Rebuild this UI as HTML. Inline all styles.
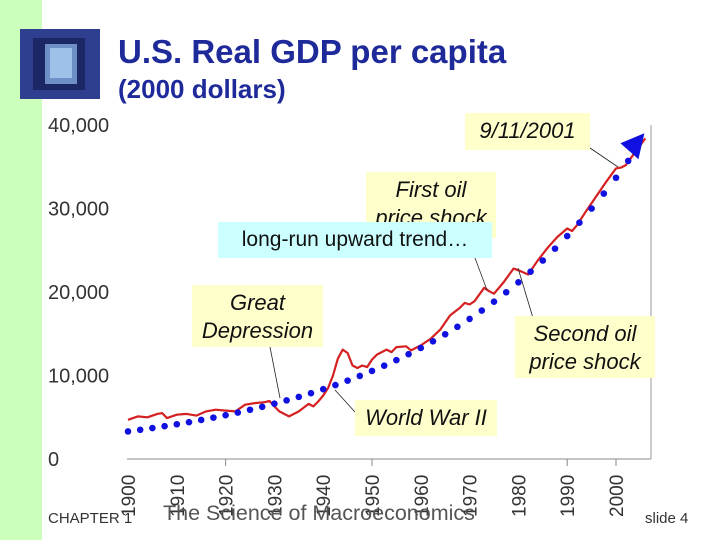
<!DOCTYPE html>
<html><head><meta charset="utf-8"><style>
body{margin:0;width:720px;height:540px;overflow:hidden;background:#fff;font-family:"Liberation Sans",sans-serif}
</style></head><body>
<svg id="c" width="720" height="540" xmlns="http://www.w3.org/2000/svg">
<rect x="0" y="0" width="42" height="540" fill="#ccffbb"/>
<g>
<rect x="20" y="29" width="80" height="70" fill="#2f3f8f"/>
<rect x="33" y="38" width="52" height="52" fill="#1c2866"/>
<rect x="45" y="44" width="32" height="40" fill="#6f8fc8"/>
<rect x="50" y="48" width="22" height="30" fill="#9fc0e8"/>
</g>
<text x="118" y="63" font-size="33" font-weight="bold" fill="#1f2a9a">U.S. Real GDP per capita</text>
<text x="118" y="98" font-size="26" font-weight="bold" fill="#1f2a9a">(2000 dollars)</text>
<g id="axes"></g>
<g id="marks"></g>
<g id="ann"></g>
<text x="48" y="523" font-size="15" fill="#333">CHAPTER 1</text>
<text x="163" y="520" font-size="21.5" fill="#555">The Science of Macroeconomics</text>
<text x="645" y="523" font-size="15" fill="#333">slide 4</text>
</svg>
<script>
const yTicks=[0,10000,20000,30000,40000];
const yTickLabels=["0","10,000","20,000","30,000","40,000"];
const xTicks=[1900,1910,1920,1930,1940,1950,1960,1970,1980,1990,2000];
const xTickMarks=[1920,1950,1990,2000];
const gdpYears=[1900,1902,1904,1906,1907,1908,1910,1912,1914,1916,1918,1920,1922,1924,1926,1928,1929,1930,1931,1933,1935,1937,1938,1939,1940,1941,1942,1943,1944,1945,1946,1947,1948,1949,1950,1951,1953,1954,1955,1957,1958,1960,1962,1964,1966,1968,1969,1970,1971,1973,1974,1975,1977,1979,1980,1982,1984,1986,1988,1990,1991,1992,1994,1996,1998,2000,2001,2002,2004,2006];
const gdpValues=[4700,5100,5000,5400,5500,4900,5300,5400,5200,5700,5900,5800,5700,6500,6700,6800,6950,6300,5700,5100,5700,6600,6300,6900,7600,8500,10000,12000,13100,12700,11200,10900,11200,11000,11900,12500,13100,12800,13400,13500,13000,13600,14400,15500,17200,18100,18700,18500,18900,20500,20100,19800,21200,22800,22600,22100,23800,25300,26600,27600,27300,28000,29800,31500,33200,34800,34900,35200,36800,38400];
const trendYears=[1900,1902.5,1905,1907.5,1910,1912.5,1915,1917.5,1920,1922.5,1925,1927.5,1930,1932.5,1935,1937.5,1940,1942.5,1945,1947.5,1950,1952.5,1955,1957.5,1960,1962.5,1965,1967.5,1970,1972.5,1975,1977.5,1980,1982.5,1985,1987.5,1990,1992.5,1995,1997.5,2000,2002.5];
const trendValues=[3300,3497,3706,3928,4163,4412,4676,4955,5251,5565,5898,6251,6625,7021,7441,7886,8357,8857,9387,9948,10543,11173,11841,12549,13300,14095,14938,15831,16778,17781,18844,19971,21165,22431,23772,25194,26700,28297,29989,31783,33683,35697];
const arrowTip=[2005,38300];

const NS="http://www.w3.org/2000/svg";
const X=y=>128+(y-1900)*4.88;
const Y=v=>459-v*(334/40000);
function mk(tag,attrs,parent,txt){const e=document.createElementNS(NS,tag);for(const k in attrs)e.setAttribute(k,attrs[k]);if(txt!==undefined)e.textContent=txt;document.getElementById(parent).appendChild(e);return e;}

let e;
e=mk('line',{x1:127,y1:459,x2:651,y2:459,stroke:'#888','stroke-width':1},'axes');


e=mk('line',{x1:651,y1:125,x2:651,y2:459,stroke:'#999','stroke-width':1},'axes');


yTicks.forEach((v,i)=>{
  const t=mk('text',{x:48,y:Y(v)+7,'font-size':20,fill:'#333'},'axes',yTickLabels[i]);
  
  
});
xTickMarks.forEach(yr=>{
  const l=mk('line',{x1:X(yr),y1:459,x2:X(yr),y2:466,stroke:'#888'},'axes');
  
  
});
xTicks.forEach(yr=>{
  const t=mk('text',{x:0,y:0,'font-size':19,fill:'#333',transform:`translate(${X(yr)+7},517) rotate(-90)`},'axes',String(yr));
  
  
});
const pts=gdpYears.map((yr,i)=>X(yr).toFixed(1)+','+Y(gdpValues[i]).toFixed(1)).join(' ');
e=mk('polyline',{points:pts,fill:'none',stroke:'#d42020','stroke-width':2.2,'stroke-linejoin':'round'},'marks');


trendYears.forEach((yr,i)=>{
  const c=mk('circle',{cx:X(yr),cy:Y(trendValues[i]),r:3.3,fill:'#1010e0'},'marks');
  
  
});
{
  const tx=X(arrowTip[0])+4, ty=Y(arrowTip[1])-6;
  const a=mk('polygon',{points:`${tx},${ty} ${tx-6},${ty+26} ${tx-24},${ty+10}`,fill:'#1010e0'},'marks');
  
  
}
function box(name,x,y,w,h,fill,lines,italic,size){
  const r=mk('rect',{x:x,y:y,width:w,height:h,fill:fill},'ann');
  
  
  lines.forEach((s,i)=>{
    const t=mk('text',{x:x+w/2,y:y+size+3+i*(size+6),'font-size':size,'text-anchor':'middle','font-style':italic?'italic':'normal',fill:'#111'},'ann',s);
    
    
  });
}
function lead(name,x1,y1,x2,y2){
  const l=mk('line',{x1:x1,y1:y1,x2:x2,y2:y2,stroke:'#222','stroke-width':0.8},'ann');
  
  
}
lead('leader-911',590,148,618,167);
lead('leader-first-oil',475,258,487,290);
lead('leader-great-depression',270,347,280,398);
lead('leader-second-oil',518,268,533,318);
lead('leader-wwii',335,390,355,412);
box('annotation-911',465,113,125,37,'#ffffcc',['9/11/2001'],true,22);
box('annotation-first-oil',366,172,130,66,'#ffffcc',['First oil','price shock'],true,22);
box('annotation-long-run-trend',218,222,274,36,'#ccffff',['long-run upward trend…'],false,21);
box('annotation-great-depression',192,285,131,62,'#ffffcc',['Great','Depression'],true,22);
box('annotation-second-oil',515,316,140,62,'#ffffcc',['Second oil','price shock'],true,22);
box('annotation-wwii',355,400,142,36,'#ffffcc',['World War II'],true,22);
</script>
</body></html>
